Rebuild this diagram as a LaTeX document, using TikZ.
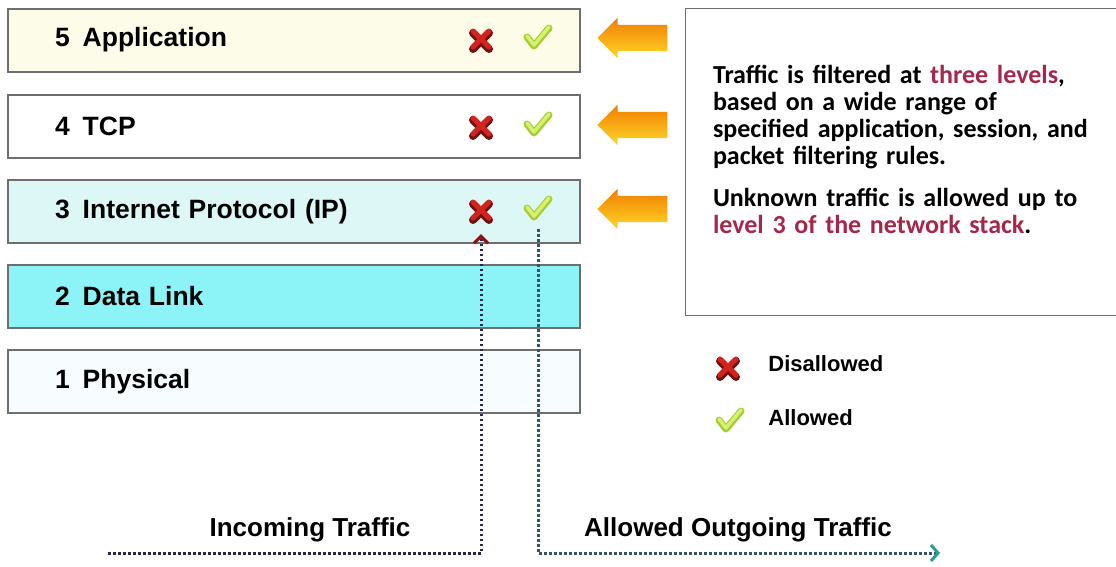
\documentclass[tikz,border=0pt]{standalone}
\usepackage{fontspec}
\setmainfont{Liberation Sans}
\newfontfamily\notefont{Carlito}
\usetikzlibrary{positioning}
\usetikzlibrary{shapes.arrows}
\usetikzlibrary{arrows.meta}
\usepackage{xcolor}

\definecolor{boxline}{RGB}{110,110,110}
\definecolor{appfill}{RGB}{253,252,232}
\definecolor{ipfill}{RGB}{221,247,247}
\definecolor{dlfill}{RGB}{140,243,247}
\definecolor{phfill}{RGB}{247,253,254}
\definecolor{xdark}{RGB}{110,20,20}
\definecolor{xred}{RGB}{210,35,30}
\definecolor{tickedge}{RGB}{165,205,55}
\definecolor{tickfill}{RGB}{215,240,110}
\definecolor{arrtop}{RGB}{240,125,0}
\definecolor{arrmid}{RGB}{248,150,10}
\definecolor{arrbot}{RGB}{255,215,40}
\definecolor{noterose}{RGB}{165,40,75}
\definecolor{inline}{RGB}{40,40,70}
\definecolor{outline}{RGB}{50,85,105}
\definecolor{outtip}{RGB}{40,160,150}

\tikzset{
  layerbox/.style={draw=boxline, line width=2pt, minimum height=63pt,
    text width=478pt, inner xsep=47pt, align=left,
    font=\fontsize{26.5}{30}\selectfont\bfseries},
  xmark/.style={minimum size=30pt, inner sep=0pt, path picture={
    \begin{scope}[shift={(path picture bounding box.center)}]
    \draw[xdark, line width=8pt, line cap=round] (-8pt,-9pt) -- (8pt,7pt) (-8pt,7pt) -- (8pt,-9pt);
    \draw[xred, line width=5pt, line cap=round] (-8pt,-7pt) -- (8pt,9pt) (-8pt,9pt) -- (8pt,-7pt);
    \end{scope}}},
  tick/.style={minimum size=34pt, inner sep=0pt, path picture={
    \begin{scope}[shift={(path picture bounding box.center)}]
    \draw[tickedge, line width=7pt, line cap=round, line join=round] (-11pt,0pt) -- (-4pt,-9pt) -- (11pt,9pt);
    \draw[tickfill, line width=3.5pt, line cap=round, line join=round] (-11pt,1pt) -- (-4pt,-8pt) -- (11pt,10pt);
    \end{scope}}},
  filterarrow/.style={single arrow, shape border rotate=180, draw=none,
    minimum height=70pt, single arrow head extend=7pt,
    inner sep=0pt, top color=arrtop, middle color=arrmid, bottom color=arrbot},
  infobox/.style={draw=boxline, line width=1pt, minimum width=437pt, minimum height=307pt,
    text width=381pt, inner xsep=28pt, align=left,
    font=\notefont\fontsize{26}{27}\selectfont\bfseries},
  legendtext/.style={inner sep=0pt, font=\fontsize{22}{24}\selectfont\bfseries},
  flowtext/.style={inner sep=0pt, font=\fontsize{26}{28}\selectfont\bfseries},
  flow/.style={line width=3pt, dash pattern=on 2.5pt off 2.5pt},
}

\begin{document}
\begin{tikzpicture}[x=1pt,y=-1pt]
\useasboundingbox (0,0) rectangle (1116,566);

% protocol stack
\foreach \n/\yc/\col/\txt in {5/40/appfill/Application, 4/126/white/TCP,
  3/211.5/ipfill/Internet Protocol (IP), 2/296.5/dlfill/Data Link, 1/381.5/phfill/Physical}
  \node[layerbox, fill=\col] (l\n) at (294,\yc) {\n\hspace{13pt}\txt};

% filters
\foreach \n/\yc in {5/40, 4/127, 3/211} {
  \node[xmark] (x\n) at (481,\yc) {};
  \node[tick] (c\n) at (538,\yc-3) {};
  \node[filterarrow] (a\n) at (639,\yc-2) {\rule{0pt}{26pt}};
}

\node[infobox] (info) at (903.5,161.5) {Traffic is filtered at \textcolor{noterose}{three levels},\\
  based on a wide range of\\
  specified application, session, and\\
  packet filtering rules.\\[15pt]
  Unknown traffic is allowed up to\\
  \textcolor{noterose}{level 3 of the network stack}.\rule[-25pt]{0pt}{1pt}};

% legend
\node[xmark] (kx) at (728,368) {};
\node[legendtext, right=25pt of kx, yshift=4pt] (kxlbl) {Disallowed};
\node[tick] (kc) at (730,420) {};
\node[legendtext, right=21pt of kc, yshift=2pt] (kclbl) {Allowed};

% traffic
\node[flowtext] (inlbl) at (310,530) {Incoming Traffic};
\node[flowtext] (outlbl) at (738,530) {Allowed Outgoing Traffic};
\coordinate (inStart) at (108,553);
\coordinate (outEnd) at (940,553);
\draw[flow, inline, -{Straight Barb[color=xdark!80!red, line width=3pt, length=7pt, width=14pt]}]
  (inStart) -| ([yshift=-8pt]x3.south);
\draw[flow, outline, -{Straight Barb[color=outtip, line width=3pt, length=7pt, width=16pt]}]
  ([yshift=-4pt]c3.south) |- (outEnd);
\end{tikzpicture}
\end{document}
